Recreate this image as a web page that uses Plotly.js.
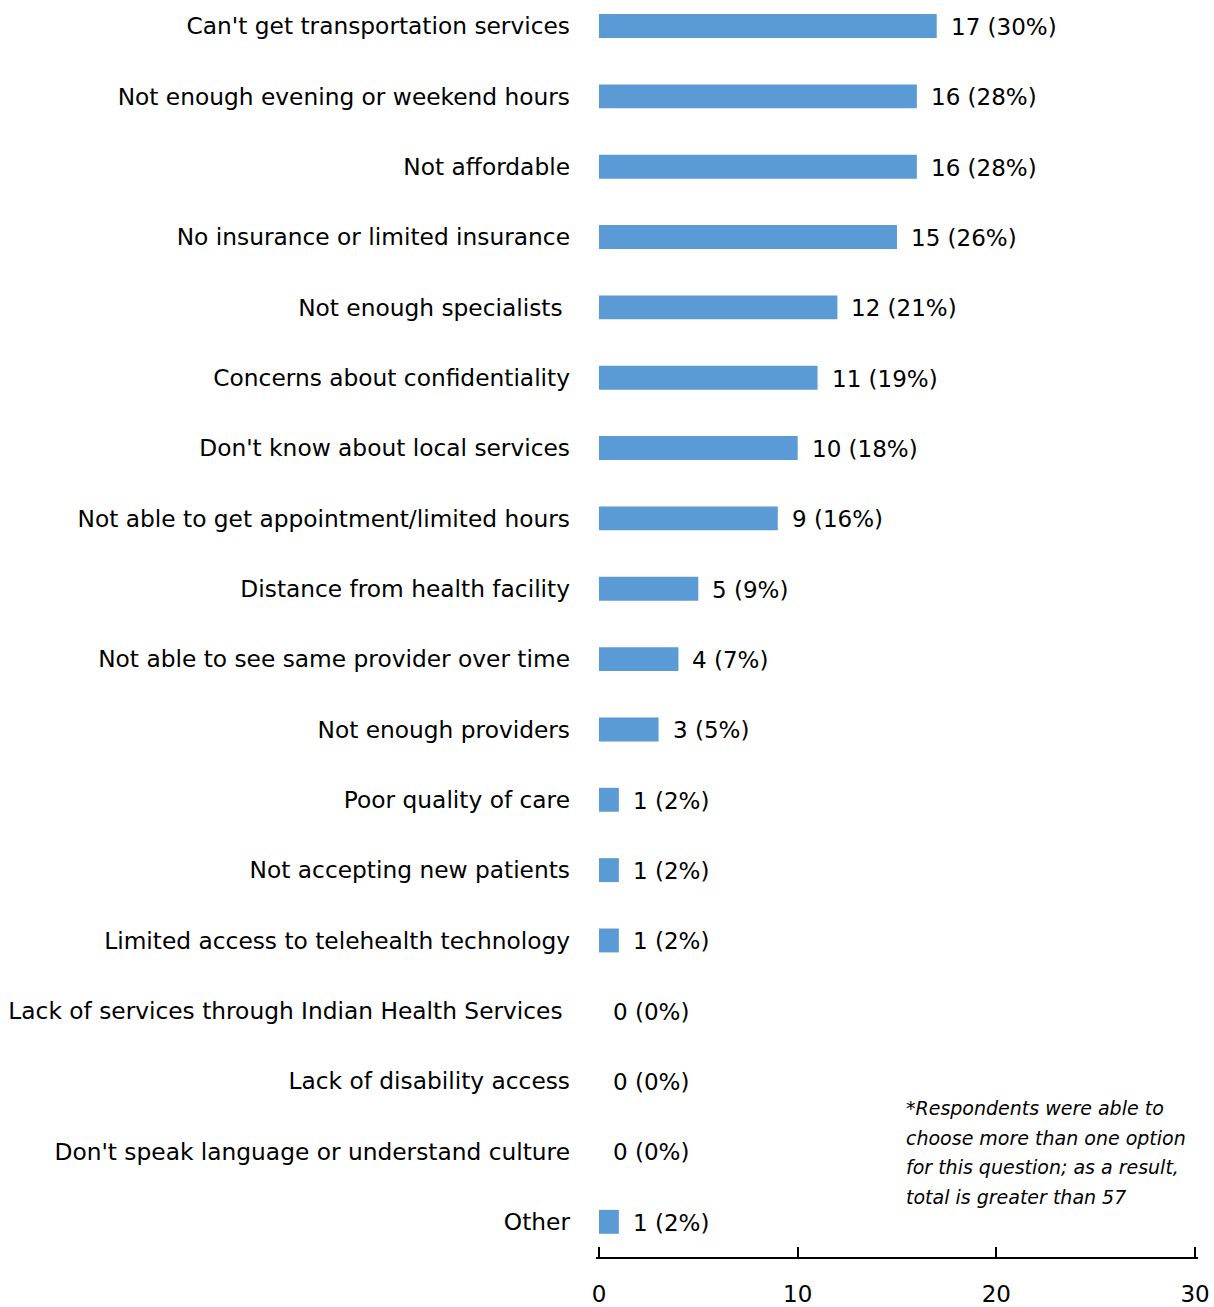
<!DOCTYPE html>
<html>
<head>
<meta charset="utf-8">
<script src="https://cdn.plot.ly/plotly-3.0.1.min.js"></script>
<style>html,body{margin:0;padding:0;background:#fff;}</style>
</head>
<body>
<div id="chart" style="width:1214px;height:1307px;"></div>
<script>
const categories = [
  "Can't get transportation services",
  "Not enough evening or weekend hours",
  "Not affordable",
  "No insurance or limited insurance",
  "Not enough specialists\u00A0",
  "Concerns about confidentiality",
  "Don't know about local services",
  "Not able to get appointment/limited hours",
  "Distance from health facility",
  "Not able to see same provider over time",
  "Not enough providers",
  "Poor quality of care",
  "Not accepting new patients",
  "Limited access to telehealth technology",
  "Lack of services through Indian Health Services\u00A0",
  "Lack of disability access",
  "Don't speak language or understand culture",
  "Other"
];
const counts = [17, 16, 16, 15, 12, 11, 10, 9, 5, 4, 3, 1, 1, 1, 0, 0, 0, 1];
const percents = [30, 28, 28, 26, 21, 19, 18, 16, 9, 7, 5, 2, 2, 2, 0, 0, 0, 2];
const xTicks = [0, 10, 20, 30];
const noteLines = [
  "*Respondents were able to",
  "choose more than one option",
  "for this question; as a result,",
  "total is greater than 57"
];

const FONT = "DejaVu Sans, Open Sans, sans-serif";

const trace = {
  type: 'bar',
  orientation: 'h',
  x: counts,
  y: categories,
  marker: {color: '#5B9BD5'},
  width: 0.34,
  hoverinfo: 'none'
};

// plot area: 596..1198 px, range [-0.15, 30.15] -> 0 at ~599, 30 at ~1195
const PL = 596, PW = 602;

const annotations = counts.map((c, i) => ({
  x: c, y: categories[i], xref: 'x', yref: 'y',
  text: c + ' (' + percents[i] + '%)',
  showarrow: false, xanchor: 'left', yanchor: 'middle', xshift: 12, yshift: -1,
  font: {family: FONT, size: 23, color: '#000'}
}));

noteLines.forEach((t, i) => {
  annotations.push({
    xref: 'paper', yref: 'paper',
    x: (904 - PL) / PW, y: (1257 - 1108 - i * 29.7) / 1257,
    text: '<i>' + t + '</i>', showarrow: false,
    xanchor: 'left', yanchor: 'middle', align: 'left',
    font: {family: FONT, size: 19, color: '#000'}
  });
});

const layout = {
  width: 1214, height: 1307,
  margin: {l: PL, r: 1214 - PL - PW, t: 0, b: 50},
  paper_bgcolor: '#fff', plot_bgcolor: '#fff',
  showlegend: false,
  xaxis: {
    range: [-0.15, 30.15], tickvals: xTicks, ticktext: xTicks.map(String),
    showgrid: false, zeroline: false,
    showline: true, linecolor: '#000', linewidth: 2,
    ticks: 'inside', ticklen: 10, tickwidth: 2, tickcolor: '#000',
    ticklabelstandoff: 15,
    tickfont: {family: FONT, size: 23, color: '#000'},
    fixedrange: true
  },
  yaxis: {
    type: 'category', categoryarray: categories, categoryorder: 'array',
    range: [17.5, -0.37],
    showgrid: false, zeroline: false, showline: false, ticks: '',
    ticklabelstandoff: 25,
    tickfont: {family: FONT, size: 23.3, color: '#000'},
    fixedrange: true
  },
  annotations: annotations
};

Plotly.newPlot('chart', [trace], layout, {displayModeBar: false, staticPlot: true});
</script>
</body>
</html>
